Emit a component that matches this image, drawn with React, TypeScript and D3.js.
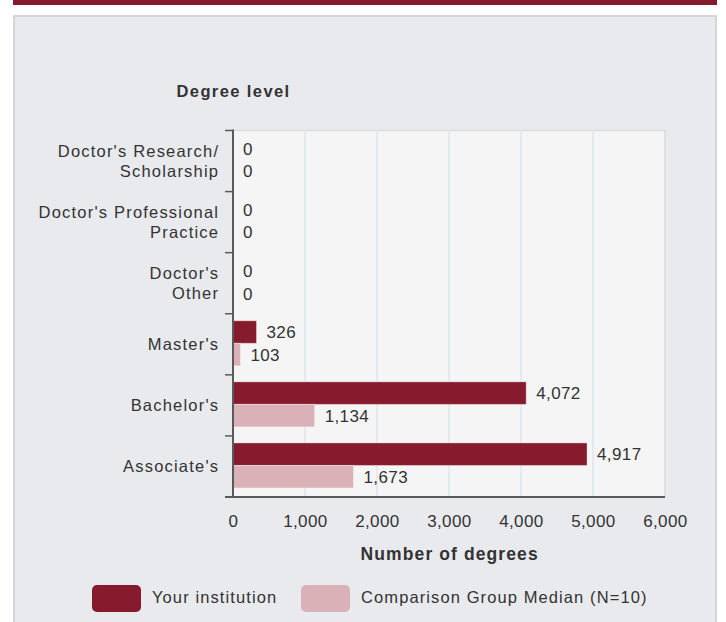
import React from "react";
import * as d3 from "d3";

const categories = [
  "Doctor's Research/\nScholarship",
  "Doctor's Professional\nPractice",
  "Doctor's\nOther",
  "Master's",
  "Bachelor's",
  "Associate's",
];
const seriesNames = ["Your institution", "Comparison Group Median (N=10)"];
const yourInstitution = [0, 0, 0, 326, 4072, 4917];
const comparisonMedian = [0, 0, 0, 103, 1134, 1673];
const xTicks = [0, 1000, 2000, 3000, 4000, 5000, 6000];
const seriesColors = ["#861b2d", "#d9b1b7"];

const W = 726;
const H = 622;
const plot = { left: 233, right: 665, top: 130.5, bottom: 497 };
const FONT = "'Liberation Sans', Arial, Helvetica, sans-serif";

export default function App() {
  const x = d3.scaleLinear().domain([0, 6000]).range([plot.left, plot.right]);
  const y = d3
    .scaleBand<string>()
    .domain(categories)
    .range([plot.top, plot.bottom])
    .padding(0);
  const bw = y.bandwidth();
  const inner = d3
    .scaleBand<string>()
    .domain(seriesNames)
    .range([bw * 0.115, bw * 0.852])
    .padding(0);
  const series = [yourInstitution, comparisonMedian];
  const fmt = d3.format(",");
  const boundaries = categories.map((c) => y(c) as number).concat([plot.bottom]);

  return (
    <div style={{ position: "fixed", left: 0, top: 0 }}>
      <svg width={W} height={H} style={{ display: "block", fontFamily: FONT }}>
        <rect x={0} y={0} width={W} height={H} fill="#ffffff" />
        {/* top accent bar */}
        <rect x={13} y={0} width={704} height={5} fill="#861b2d" />
        {/* panel */}
        <rect x={14} y={16} width={702} height={H} fill="#e9eaee" stroke="#d4d5d8" strokeWidth={2} />
        {/* plot background */}
        <rect
          x={plot.left}
          y={plot.top}
          width={plot.right - plot.left}
          height={plot.bottom - plot.top}
          fill="#f5f5f5"
          stroke="#dcdde2"
          strokeWidth={1.5}
        />
        {/* grid lines */}
        {xTicks.slice(1).map((t) => (
          <line
            key={"g" + t}
            x1={x(t)}
            x2={x(t)}
            y1={plot.top}
            y2={plot.bottom}
            stroke={t === 6000 ? "#dcdde2" : "#dfe4ef"}
            strokeWidth={1.5}
          />
        ))}
        {/* bars */}
        {categories.map((c, i) =>
          series.map((s, j) => {
            const v = s[i];
            const by = (y(c) as number) + (inner(seriesNames[j]) as number);
            const bh = inner.bandwidth();
            return (
              <g key={c + j}>
                {v > 0 && (
                  <rect
                    x={x(0)}
                    y={by}
                    width={x(v) - x(0)}
                    height={bh}
                    fill={seriesColors[j]}
                    stroke="rgba(255,255,255,0.35)"
                    strokeWidth={1}
                  />
                )}
                <text
                  x={x(v) + 10}
                  y={by + bh / 2}
                  dy="0.36em"
                  fontSize={17}
                  letterSpacing={0.4}
                  fill="#333"
                >
                  {fmt(v)}
                </text>
              </g>
            );
          })
        )}
        {/* y axis */}
        <line x1={plot.left} x2={plot.left} y1={plot.top - 1} y2={plot.bottom} stroke="#5a5a5a" strokeWidth={2} />
        {boundaries.map((b, i) => (
          <line key={"t" + i} x1={plot.left - 8} x2={plot.left} y1={b} y2={b} stroke="#5a5a5a" strokeWidth={1.5} />
        ))}
        {/* x axis */}
        <line x1={plot.left - 8} x2={plot.right} y1={plot.bottom} y2={plot.bottom} stroke="#5a5a5a" strokeWidth={2} />
        {xTicks.map((t) => (
          <text
            key={"xl" + t}
            x={x(t) + 0.4}
            y={526.5}
            textAnchor="middle"
            fontSize={17}
            letterSpacing={0.4}
            fill="#333"
          >
            {fmt(t)}
          </text>
        ))}
        {/* category labels */}
        {categories.map((c) => {
          const lines = c.split("\n");
          const cy = (y(c) as number) + bw / 2;
          const lh = 20;
          const start = cy - ((lines.length - 1) * lh) / 2;
          return (
            <text key={"cl" + c} x={219.2} textAnchor="end" fontSize={16.5} letterSpacing={1.2} fill="#333">
              {lines.map((l, k) => (
                <tspan key={k} x={219.2} y={start + k * lh} dy="0.36em">
                  {l}
                </tspan>
              ))}
            </text>
          );
        })}
        {/* axis titles */}
        <text x={176.5} y={97.3} fontSize={16.5} fontWeight="bold" letterSpacing={1.4} fill="#333">
          Degree level
        </text>
        <text
          x={(plot.left + plot.right) / 2 + 0.7}
          y={560}
          textAnchor="middle"
          fontSize={17.5}
          fontWeight="bold"
          letterSpacing={1.1}
          fill="#333"
        >
          Number of degrees
        </text>
        {/* legend */}
        {seriesNames.map((n, j) => {
          const lx = j === 0 ? 92 : 301;
          return (
            <g key={"lg" + n}>
              <rect x={lx} y={585} width={49} height={27} rx={5} fill={seriesColors[j]} />
              <text x={lx + 60} y={602.7} fontSize={16.5} letterSpacing={1.1} fill="#333">
                {n}
              </text>
            </g>
          );
        })}
      </svg>
    </div>
  );
}
